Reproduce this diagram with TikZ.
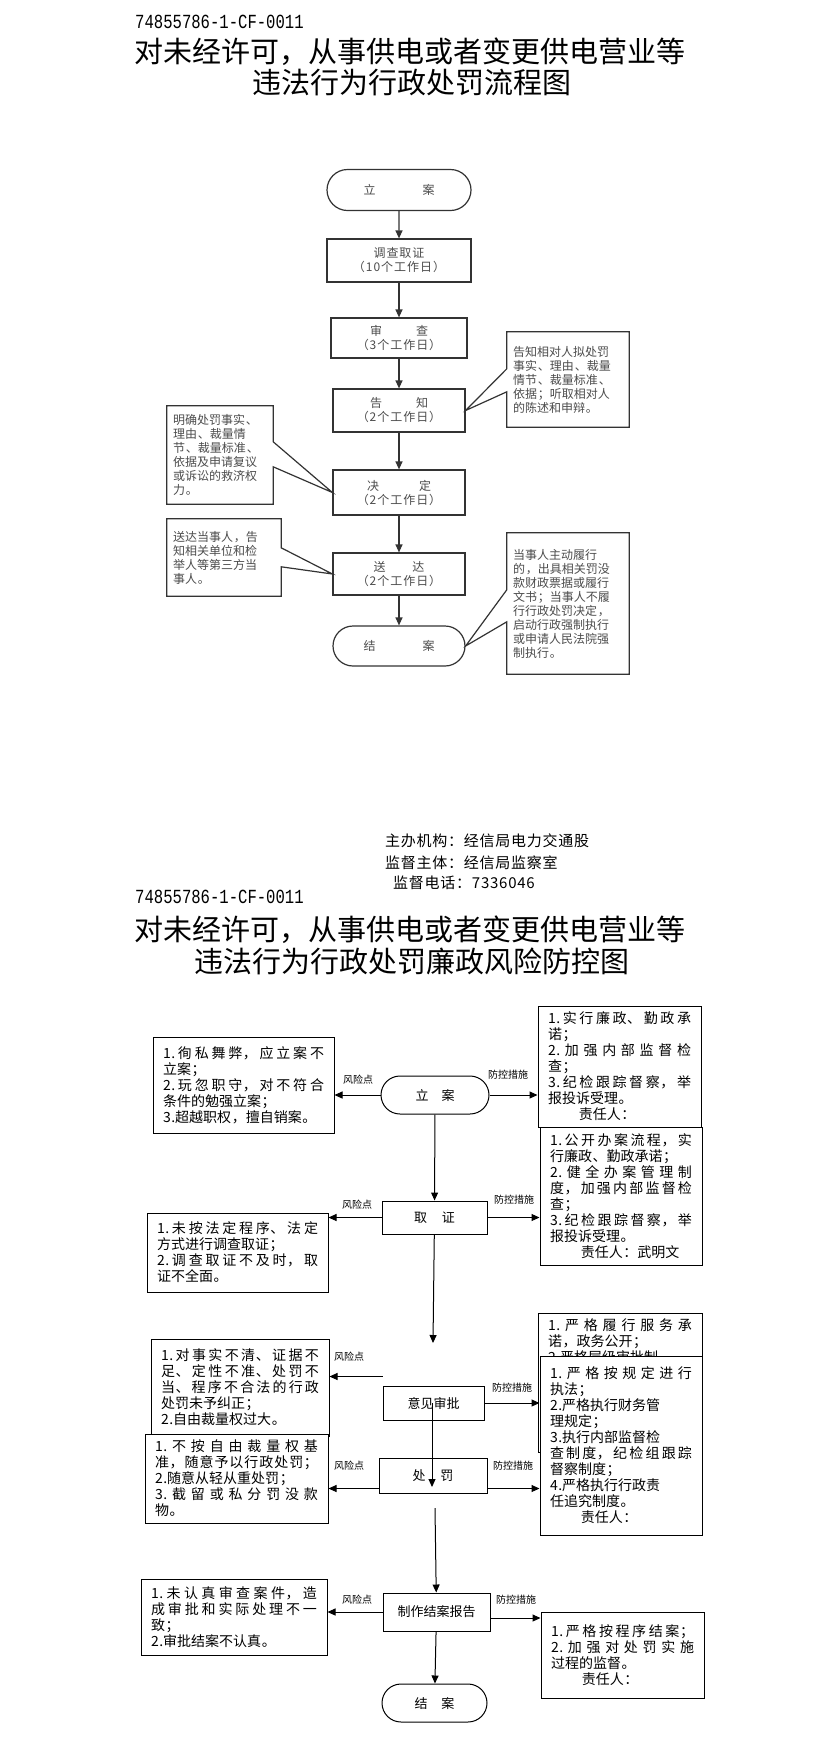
\documentclass[tikz,border=0pt]{standalone}
\usepackage{fontspec}
\setmainfont{Noto Sans CJK SC}
\newfontfamily\codefont[FakeStretch=0.78]{Liberation Mono}
\newfontfamily\notefont[LetterSpace=8]{Noto Sans CJK SC}
\newfontfamily\footfont[LetterSpace=5]{Noto Sans CJK SC}
\newfontfamily\riskfont[LetterSpace=4]{Noto Sans CJK SC}
\usetikzlibrary{arrows.meta,shapes.misc}
\XeTeXlinebreaklocale "zh"
\XeTeXlinebreakskip=0pt plus 2pt
\tikzset{
    codetext/.style={font=\codefont\fontsize{20}{22}\selectfont, anchor=west, inner sep=0pt},
    titletext/.style={font=\fontsize{29}{32}\selectfont, inner sep=0pt},
    flowbox/.style={draw=black!80, line width=1.2pt, fill=white, inner sep=0pt, align=center, text=black!70, font=\notefont\fontsize{12}{14}\selectfont},
    flowend/.style={flowbox, rounded rectangle},
    notebox/.style={inner xsep=6pt, align=left, text=black!70, font=\notefont\fontsize{12}{14}\selectfont},
    noteline/.style={draw=black!80, line width=1.2pt},
    flowarrow/.style={draw=black!80, line width=1.2pt, -{Triangle[length=8pt,width=7pt]}},
    stepbox/.style={draw=black, line width=1pt, fill=white, inner sep=0pt, font=\fontsize{13}{15}\selectfont},
    stepend/.style={stepbox, rounded rectangle},
    riskbox/.style={draw=black, line width=1pt, fill=white, inner xsep=10pt, align=justify, font=\riskfont\fontsize{14}{16}\selectfont},
    risktag/.style={font=\fontsize{10}{12}\selectfont, inner sep=0pt},
    linkarrow/.style={draw=black, line width=1pt, -{Triangle[length=8pt,width=7pt]}},
    foottext/.style={font=\footfont\fontsize{15}{18}\selectfont, anchor=west, inner sep=0pt}
}
\begin{document}
\begin{tikzpicture}[x=1pt, y=-1pt]
    \fill[white] (0,0) rectangle (823,1738);
    \useasboundingbox (0,0) rectangle (823,1738);

    \node[codetext] (code1) at (135,22) {74855786-1-CF-0011};
    \node[titletext] (title1a) at (410,52) {对未经许可，从事供电或者变更供电营业等};
    \node[titletext] (title1b) at (412,83) {违法行为行政处罚流程图};

    \node[flowend, minimum width=144pt, minimum height=41pt] (la) at (399,190) {立\hspace{47pt}案};
    \node[flowbox, minimum width=144pt, minimum height=43pt] (dc) at (399,260.5) {调查取证\\（10个工作日）};
    \node[flowbox, minimum width=136pt, minimum height=40pt] (sc) at (399,338) {审\hspace{34pt}查\\（3个工作日）};
    \node[flowbox, minimum width=132pt, minimum height=43pt] (gz) at (399,410.5) {告\hspace{34pt}知\\（2个工作日）};
    \node[flowbox, minimum width=132pt, minimum height=45pt] (jd) at (399,492.5) {决\hspace{40pt}定\\（2个工作日）};
    \node[flowbox, minimum width=132pt, minimum height=42pt] (sd) at (399,574) {送\hspace{27pt}达\\（2个工作日）};
    \node[flowend, minimum width=132pt, minimum height=40pt] (ja) at (399,646) {结\hspace{47pt}案};
    \foreach \a/\b in {la/dc, dc/sc, sc/gz, gz/jd, jd/sd, sd/ja}
        \draw[flowarrow] (\a) -- (\b);

    \node[notebox, text width=110pt, minimum height=95pt] (gzn) at (568,379.5) {告知相对人拟处罚\\事实、理由、裁量\\情节、裁量标准、\\依据；听取相对人\\的陈述和申辩。};
    \draw[noteline] (gzn.north west) -- (gzn.north east) -- (gzn.south east) -- (gzn.south west) -- ([yshift=-60pt]gzn.north west) -- (gz.east) -- ([yshift=-37pt]gzn.north west) -- cycle;
    \node[notebox, text width=94pt, minimum height=98pt] (jdn) at (220,455) {明确处罚事实、\\理由、裁量情\\节、裁量标准、\\依据及申请复议\\或诉讼的救济权\\力。};
    \draw[noteline] (jdn.north east) -- (jdn.north west) -- (jdn.south west) -- (jdn.south east) -- ([yshift=-61pt]jdn.north east) -- (jd.west) -- ([yshift=-36pt]jdn.north east) -- cycle;
    \node[notebox, text width=102pt, minimum height=77pt] (sdn) at (224,557.5) {送达当事人，告\\知相关单位和检\\举人等第三方当\\事人。};
    \draw[noteline] (sdn.north east) -- (sdn.north west) -- (sdn.south west) -- (sdn.south east) -- ([yshift=-48pt]sdn.north east) -- (sd.west) -- ([yshift=-29pt]sdn.north east) -- cycle;
    \node[notebox, text width=110pt, minimum height=141pt] (jan) at (568,603.5) {当事人主动履行\\的，出具相关罚没\\款财政票据或履行\\文书；当事人不履\\行行政处罚决定，\\启动行政强制执行\\或申请人民法院强\\制执行。};
    \draw[noteline] (jan.north west) -- (jan.north east) -- (jan.south east) -- (jan.south west) -- ([yshift=-89pt]jan.north west) -- (ja.east) -- ([yshift=-57pt]jan.north west) -- cycle;

    \node[foottext] (org) at (385,841) {主办机构：经信局电力交通股};
    \node[foottext] (sup) at (385,863) {监督主体：经信局监察室};
    \node[foottext] (tel) at (393,883) {监督电话：7336046};

    \node[codetext] (code2) at (135,897) {74855786-1-CF-0011};
    \node[titletext] (title2a) at (410,930) {对未经许可，从事供电或者变更供电营业等};
    \node[titletext] (title2b) at (412,961) {违法行为行政处罚廉政风险防控图};

    \node[stepend, minimum width=108pt, minimum height=38pt] (fla) at (435,1095) {立\hspace{13pt}案};
    \node[stepbox, minimum width=105pt, minimum height=33pt] (fqz) at (434.5,1217.5) {取\hspace{15pt}证};
    \node[stepbox, minimum width=101pt, minimum height=34pt] (fsp) at (433.5,1403) {意见审批};
    \node[stepbox, minimum width=108pt, minimum height=35pt] (fcf) at (433,1475.5) {处\hspace{15pt}罚};
    \node[stepbox, minimum width=107pt, minimum height=38pt] (fbg) at (436.5,1612) {制作结案报告};
    \node[stepend, minimum width=105pt, minimum height=38pt] (fja) at (434.5,1703) {结\hspace{14pt}案};

    \node[riskbox, text width=161pt, minimum height=96pt] (fx1) at (243.5,1085) {1.徇私舞弊，应立案不\linebreak 立案；\\ 2.玩忽职守，对不符合\linebreak 条件的勉强立案；\\ 3.超越职权，擅自销案。};
    \node[riskbox, text width=161pt, minimum height=79pt] (fx2) at (237.5,1252.5) {1.未按法定程序、法定\linebreak 方式进行调查取证；\\ 2.调查取证不及时，取\linebreak 证不全面。};
    \node[riskbox, text width=158pt, minimum height=97pt] (fx3) at (240,1387.5) {1.对事实不清、证据不\linebreak 足、定性不准、处罚不\linebreak 当、程序不合法的行政\linebreak 处罚未予纠正；\\ 2.自由裁量权过大。};
    \node[riskbox, text width=163pt, minimum height=89pt] (fx4) at (236.5,1478.5) {1.不按自由裁量权基\linebreak 准，随意予以行政处罚；\linebreak 2.随意从轻从重处罚；\\ 3.截留或私分罚没款\linebreak 物。};
    \node[riskbox, text width=166pt, minimum height=76pt] (fx5) at (234,1617) {1.未认真审查案件，造\linebreak 成审批和实际处理不一\linebreak 致；\\ 2.审批结案不认真。};

    \node[riskbox, text width=143pt, minimum height=121pt] (fk1) at (619.5,1066.5) {1.实行廉政、勤政承\linebreak 诺；\\ 2.加强内部监督检\linebreak 查；\\ 3.纪检跟踪督察，举\linebreak 报投诉受理。\\ \hspace*{2.2em}责任人：};
    \node[riskbox, text width=142pt, minimum height=138pt] (fk2) at (621,1196) {1.公开办案流程，实\linebreak 行廉政、勤政承诺；\\ 2.健全办案管理制\linebreak 度，加强内部监督检\linebreak 查；\\ 3.纪检跟踪督察，举\linebreak 报投诉受理。\\ \hspace*{2.2em}责任人：武明文};
    \node[riskbox, text width=144pt, inner ysep=4pt, text height=13pt, text depth=118pt] (fk3) at (620,1382.5) {1.严格履行服务承\linebreak 诺，政务公开；\\ 2.严格层级审批制};
    \node[riskbox, text width=142pt, minimum height=179pt] (fk4) at (621,1445.5) {1.严格按规定进行\linebreak 执法；\\ 2.严格执行财务管\\ 理规定；\\ 3.执行内部监督检\\ 查制度，纪检组跟踪\linebreak 督察制度；\\ 4.严格执行行政责\\ 任追究制度。\\ \hspace*{2.2em}责任人：};
    \node[riskbox, text width=143pt, minimum height=86pt] (fk5) at (622.5,1655) {1.严格按程序结案；\linebreak 2.加强对处罚实施\linebreak 过程的监督。\\ \hspace*{2.2em}责任人：};

    \node[risktag] (tx1) at (358,1080) {风险点};
    \node[risktag] (tk1) at (508,1075) {防控措施};
    \node[risktag] (tx2) at (357,1205) {风险点};
    \node[risktag] (tk2) at (514,1200) {防控措施};
    \node[risktag] (tx3) at (349,1357) {风险点};
    \node[risktag] (tk3) at (512,1388) {防控措施};
    \node[risktag] (tx4) at (349,1466) {风险点};
    \node[risktag] (tk4) at (513,1466) {防控措施};
    \node[risktag] (tx5) at (357,1600) {风险点};
    \node[risktag] (tk5) at (516,1600) {防控措施};

    \coordinate (qzend) at (433,1343);
    \coordinate (spleft) at ([yshift=9pt]fsp.north west);
    \coordinate (cftip) at (432,1487);
    \coordinate (cfleft) at ([yshift=-13pt]fcf.west);
    \coordinate (cfright) at ([yshift=-13pt]fcf.east);
    \coordinate (bgtop) at (435,1508);
    \coordinate (bgright) at ([yshift=-6pt]fbg.east);

    \draw[linkarrow] (fla) -- (fqz);
    \draw[linkarrow] (fla.west) -- (fla.west -| fx1.east);
    \draw[linkarrow] (fla.east) -- (fla.east -| fk1.west);
    \draw[linkarrow] (fqz.west) -- (fqz.west -| fx2.east);
    \draw[linkarrow] (fqz.east) -- (fqz.east -| fk2.west);
    \draw[linkarrow] (fqz) -- (qzend);
    \draw[linkarrow] (spleft) -- (spleft -| fx3.east);
    \draw[linkarrow] (fsp.east) -- (fsp.east -| fk4.west);
    \draw[linkarrow] (fsp.center -| cftip) -- (cftip);
    \draw[linkarrow] (cfleft) -- (cfleft -| fx4.east);
    \draw[linkarrow] (cfright) -- (cfright -| fk4.west);
    \draw[linkarrow] (bgtop) -- (fbg);
    \draw[linkarrow] (fbg.west) -- (fbg.west -| fx5.east);
    \draw[linkarrow] (bgright) -- (bgright -| fk5.west);
    \draw[linkarrow] (fbg) -- (fja);
\end{tikzpicture}
\end{document}
